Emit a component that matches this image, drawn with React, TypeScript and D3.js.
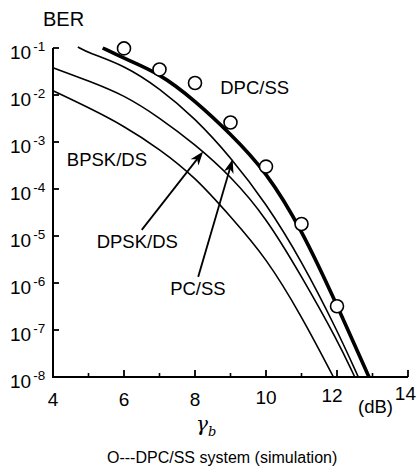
import React from 'react';
import * as d3 from 'd3';

// gamma_b (dB) and BER
const bpskX = [4, 5, 6, 7, 8, 9, 10, 11, 11.9];
const bpskBer = [1.23e-2, 5.4e-3, 2.2e-3, 7.1e-4, 1.8e-4, 2.6e-5, 3.5e-6, 2.0e-7, 1e-8];

const dpskX = [4, 5, 6, 7, 8, 9, 10, 11, 12, 12.5];
const dpskBer = [3.8e-2, 2.0e-2, 1.0e-2, 3.3e-3, 8.9e-4, 1.9e-4, 2.5e-5, 1.4e-6, 6.3e-8, 1e-8];

const pcX = [4.7, 5, 6, 7, 8, 9, 10, 11, 12, 12.6];
const pcBer = [1.05e-1, 7.9e-2, 4.3e-2, 1.4e-2, 3.2e-3, 4.8e-4, 5.0e-5, 3.0e-6, 1.0e-7, 1e-8];

const dpcX = [5.4, 6, 7, 8, 9, 10, 11, 12, 12.9];
const dpcBer = [1.0e-1, 6.0e-2, 2.9e-2, 7.6e-3, 1.5e-3, 2.4e-4, 1.4e-5, 3.4e-7, 1e-8];

const simX = [6, 7, 8, 9, 10, 11, 12];
const simBer = [9.8e-2, 3.5e-2, 1.8e-2, 2.6e-3, 3.0e-4, 1.8e-5, 3.2e-7];

const xMajor = [4, 6, 8, 10, 12, 14];
const xMinor = [5, 7, 9, 11, 13];
const yExp = [1, 2, 3, 4, 5, 6, 7, 8];

const font = '"Liberation Sans", Arial, sans-serif';

const x = d3.scaleLinear().domain([4, 14]).range([53, 408]);
const y = d3.scaleLog().domain([1e-8, 1e-1]).range([377, 48]);

const line = d3
  .line<[number, number]>()
  .x(d => x(d[0]))
  .y(d => y(d[1]))
  .curve(d3.curveBasis);

const zip = (xs: number[], ys: number[]) => xs.map((v, i) => [v, ys[i]] as [number, number]);

function Arrow({ from, to }: { from: [number, number]; to: [number, number] }) {
  const x1 = x(from[0]), y1 = y(from[1]);
  const x2 = x(to[0]), y2 = y(to[1]);
  const len = Math.hypot(x2 - x1, y2 - y1);
  const ux = (x2 - x1) / len, uy = (y2 - y1) / len;
  const L = 14, w = 5;
  const bx = x2 - ux * L, by = y2 - uy * L;
  const nx = x2 - ux * L * 0.7, ny = y2 - uy * L * 0.7;
  const pts = [
    [x2, y2],
    [bx - uy * w, by + ux * w],
    [nx, ny],
    [bx + uy * w, by - ux * w],
  ];
  return (
    <g>
      <line x1={x1} y1={y1} x2={nx} y2={ny} stroke="#000" strokeWidth={1.8} />
      <polygon points={pts.map(p => p.join(',')).join(' ')} fill="#000" />
    </g>
  );
}

export default function App() {
  const curves = [
    { key: 'bpsk', d: zip(bpskX, bpskBer), w: 1.6 },
    { key: 'dpsk', d: zip(dpskX, dpskBer), w: 1.6 },
    { key: 'pc', d: zip(pcX, pcBer), w: 1.6 },
    { key: 'dpc', d: zip(dpcX, dpcBer), w: 3.6 },
  ];

  return (
    <svg
      width={417}
      height={470}
      style={{ position: 'absolute', left: 0, top: 0, background: '#fff' }}
      fontFamily={font}
    >
      {/* axes */}
      <path d={`M${x(4)},${y(1e-1)}V${y(1e-8)}H${x(14)}`} fill="none" stroke="#000" strokeWidth={2} />
      {yExp.map(e => (
        <line key={e} x1={x(4)} x2={x(4) + 6} y1={y(Math.pow(10, -e))} y2={y(Math.pow(10, -e))} stroke="#000" strokeWidth={1.8} />
      ))}
      {xMajor.map(v => (
        <line key={v} x1={x(v)} x2={x(v)} y1={y(1e-8)} y2={y(1e-8) - 7} stroke="#000" strokeWidth={1.8} />
      ))}
      {xMinor.map(v => (
        <line key={v} x1={x(v)} x2={x(v)} y1={y(1e-8)} y2={y(1e-8) - 4} stroke="#000" strokeWidth={1.6} />
      ))}

      {/* y tick labels */}
      {yExp.map(e => (
        <text key={e} x={10} y={y(Math.pow(10, -e)) + 11} fontSize={19}>
          10
          <tspan dx={2} dy={-8.5} fontSize={13.5}>{`-${e}`}</tspan>
        </text>
      ))}

      {/* x tick labels */}
      {xMajor.map(v => (
        <text
          key={v}
          x={v === 14 ? 416 : x(v) - (v === 12 ? 5 : 0)}
          y={405.5 - Math.max(0, v - 8) * 0.9}
          fontSize={19}
          textAnchor={v === 14 ? 'end' : 'middle'}
        >
          {v}
        </text>
      ))}
      <text x={358} y={413} fontSize={18.5}>(dB)</text>
      <text x={196} y={431} fontSize={20} fontFamily='"DejaVu Serif", serif' fontStyle="italic">
        γ<tspan dy={5} fontSize={13}>b</tspan>
      </text>

      <text x={43} y={26} fontSize={20}>BER</text>

      {/* curves */}
      {curves.map(c => (
        <path key={c.key} d={line(c.d) || ''} fill="none" stroke="#000" strokeWidth={c.w} strokeLinejoin="round" />
      ))}

      {/* simulation points */}
      {simX.map((v, i) => (
        <circle key={v} cx={x(v)} cy={y(simBer[i])} r={6.5} fill="#fff" stroke="#000" strokeWidth={1.6} />
      ))}

      {/* annotations */}
      <Arrow from={[6.5, 1.35e-5]} to={[8.23, 6.3e-4]} />
      <Arrow from={[8.09, 1.35e-6]} to={[9.06, 4.3e-4]} />

      <text x={x(8.71)} y={y(1.05e-2)} fontSize={18.5}>DPC/SS</text>
      <text x={x(4.39)} y={y(3.1e-4)} fontSize={18.5}>BPSK/DS</text>
      <text x={x(5.23)} y={y(5.5e-6)} fontSize={18.5}>DPSK/DS</text>
      <text x={x(7.3)} y={y(5.5e-7)} fontSize={18.5}>PC/SS</text>

      <text x={107} y={463} fontSize={16}>O---DPC/SS system (simulation)</text>
    </svg>
  );
}
